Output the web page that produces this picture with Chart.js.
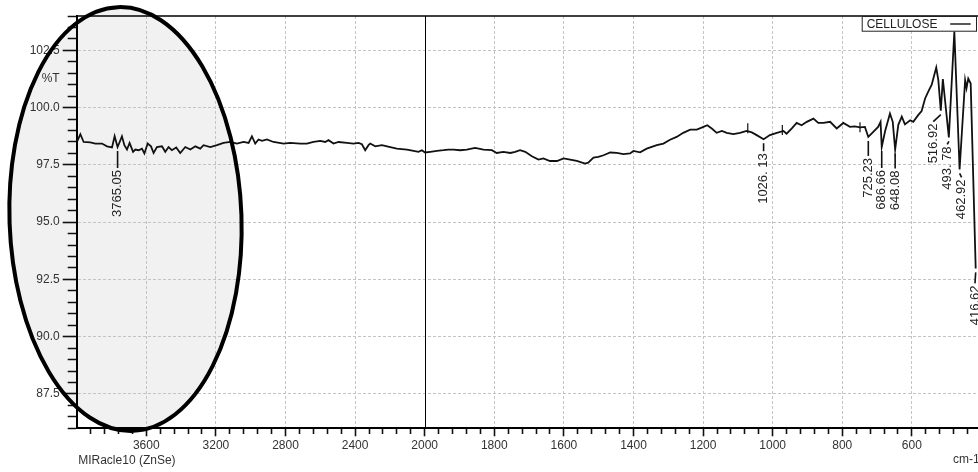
<!DOCTYPE html>
<html>
<head>
<meta charset="utf-8">
<title>CELLULOSE - FTIR</title>
<script src="https://cdn.jsdelivr.net/npm/chart.js@4.4.0/dist/chart.umd.min.js"></script>
<style>
  html, body { margin: 0; padding: 0; background: #fff; }
  canvas { display: block; }
</style>
</head>
<body>
<canvas id="ftir" width="978" height="472"></canvas>
<script>
/* ---------- data ---------- */
const seriesName = 'CELLULOSE';

const wavenumbers = [
  3996, 3979, 3960, 3922, 3893, 3855, 3826, 3797, 3782, 3765.05,
  3753, 3740, 3726, 3711, 3696, 3676, 3663, 3644, 3625, 3611,
  3592, 3573, 3558, 3539, 3510, 3491, 3472, 3453, 3428, 3405,
  3376, 3347, 3318, 3290, 3271, 3232, 3194, 3156, 3117, 3079,
  3041, 3012, 2993, 2974, 2955, 2935, 2907, 2869, 2811, 2773,
  2715, 2677, 2639, 2600, 2572, 2553, 2524, 2495, 2447, 2409,
  2380, 2361, 2342, 2323, 2313, 2284, 2246, 2198, 2160, 2102,
  2064, 2036, 2016, 1999, 1984, 1965, 1946, 1932, 1917, 1898,
  1879, 1855, 1831, 1807, 1793, 1774, 1754, 1740, 1726, 1711,
  1692, 1673, 1659, 1640, 1620, 1601, 1582, 1563, 1539, 1530,
  1515, 1501, 1486, 1467, 1448, 1429, 1410, 1400, 1381, 1362,
  1333, 1314, 1295, 1276, 1257, 1237, 1218, 1199, 1188, 1175,
  1161, 1146, 1132, 1113, 1094, 1075, 1060, 1046, 1026.13, 1008,
  988, 969, 960, 945, 931, 917, 902, 883, 869, 854,
  835, 816, 797, 778, 764, 749, 735, 725.23, 711, 697,
  690, 686.66, 677, 663, 655, 648.08, 639, 629, 620, 605,
  596, 582, 572, 562, 553, 543, 537, 530, 524, 516.92,
  511, 493.78, 478, 462.92, 447, 443, 438, 431, 416.62
];

const transmittance = [
  98.55, 98.84, 98.50, 98.48, 98.43, 98.43, 98.31, 98.26, 98.75, 98.28,
  98.50, 98.75, 98.36, 98.17, 98.46, 98.07, 98.17, 98.14, 98.21, 98.00,
  98.43, 98.31, 98.02, 98.28, 98.31, 98.07, 98.28, 98.14, 98.26, 98.02,
  98.28, 98.17, 98.31, 98.21, 98.36, 98.28, 98.36, 98.46, 98.50, 98.43,
  98.50, 98.46, 98.75, 98.43, 98.61, 98.55, 98.61, 98.50, 98.43, 98.46,
  98.43, 98.43, 98.50, 98.55, 98.50, 98.58, 98.43, 98.50, 98.46, 98.43,
  98.46, 98.40, 98.14, 98.36, 98.43, 98.31, 98.36, 98.28, 98.21, 98.17,
  98.11, 98.07, 98.14, 98.04, 98.07, 98.11, 98.14, 98.17, 98.17, 98.14,
  98.17, 98.24, 98.17, 98.14, 98.02, 98.07, 98.02, 98.07, 98.14, 98.07,
  97.88, 97.73, 97.78, 97.67, 97.67, 97.78, 97.73, 97.67, 97.56, 97.60,
  97.82, 97.85, 97.92, 98.04, 98.02, 97.97, 98.00, 98.11, 98.05, 98.21,
  98.36, 98.43, 98.60, 98.72, 98.90, 99.04, 99.04, 99.16, 99.23, 99.09,
  98.90, 98.98, 98.90, 98.84, 98.90, 98.98, 98.92, 98.80, 98.62, 98.80,
  98.90, 98.98, 98.86, 99.09, 99.33, 99.23, 99.38, 99.52, 99.33, 99.33,
  99.38, 99.09, 99.33, 99.16, 99.18, 99.14, 99.16, 98.72, 98.94, 99.16,
  99.38, 98.28, 98.97, 99.74, 99.38, 98.17, 99.25, 99.61, 99.27, 99.45,
  99.38, 99.67, 99.85, 100.40, 100.70, 101.00, 101.35, 101.75, 101.20, 99.87,
  101.25, 98.70, 103.32, 97.30, 101.20, 100.85, 101.27, 101.05, 92.98
];

// labelled peaks (text as printed on the spectrum)
const peakWavenumbers = [3765.05, 1026.13, 725.23, 686.66, 648.08, 516.92, 493.78, 462.92, 416.62];
const peakLabels = ['3765.05', '1026. 13', '725.23', '686.66', '648.08', '516.92', '493. 78', '462.92', '416.62'];

// small unlabelled peak marks crossing the trace
const markWavenumbers = [1071.6, 972.3, 749.1];
const markTransmittance = [99.10, 99.02, 99.14];

const xTickLabels = [3600, 3200, 2800, 2400, 2000, 1800, 1600, 1400, 1200, 1000, 800, 600];
const yTickLabels = [87.5, 90.0, 92.5, 95.0, 97.5, 100.0, 102.5];

/* ---------- label layout (pixel nudges, not data) ---------- */
const peakTextDrop = [23, 14, 21, 23, 21, 13, 9, 10, 17];
const peakTextShift = [0, 0, 0, 0, 0, -7.5, -1.6, 2, -0.7];

/* ---------- tick lists ---------- */
const BREAK = 2000;
const xMajorSet = new Set(xTickLabels);
const yMajorSet = new Set(yTickLabels);

const xTickValues = [];
for (let w = 3920; w > BREAK; w -= 80) xTickValues.push(w);
for (let w = BREAK; w >= 440; w -= 40) xTickValues.push(w);
xTickLabels.forEach(v => { if (!xTickValues.includes(v)) xTickValues.push(v); });
xTickValues.sort((a, b) => b - a);

const yTickValues = [];
for (let k = 172; k <= 208; k++) yTickValues.push(k / 2);

/* ---------- x scale: 400 cm-1 per division above 2000, 200 below ---------- */
function axisUnit(w) {
  return w >= BREAK ? (w - BREAK) / 400 : (w - BREAK) / 200;
}
function fromAxisUnit(u) {
  return u >= 0 ? BREAK + u * 400 : BREAK + u * 200;
}

class SplitLinearScale extends Chart.LinearScale {
  getPixelForValue(value) {
    if (value === null || value === undefined || isNaN(value)) return NaN;
    const u0 = axisUnit(this.min), u1 = axisUnit(this.max);
    return this.getPixelForDecimal((axisUnit(value) - u0) / (u1 - u0));
  }
  getValueForPixel(pixel) {
    const u0 = axisUnit(this.min), u1 = axisUnit(this.max);
    return fromAxisUnit(u0 + this.getDecimalForPixel(pixel) * (u1 - u0));
  }
}
SplitLinearScale.id = 'splitLinear';
SplitLinearScale.defaults = {};
Chart.register(SplitLinearScale);

/* ---------- decorations ---------- */
const FONT = "'Liberation Sans', Arial, Helvetica, sans-serif";

const spectrumDecor = {
  id: 'spectrumDecor',
  beforeDraw(chart) {
    const ctx = chart.ctx;
    ctx.save();
    ctx.fillStyle = '#fff';
    ctx.fillRect(0, 0, chart.width, chart.height);
    ctx.beginPath();
    ctx.ellipse(125.5, 219, 116, 212, -0.035, 0, Math.PI * 2);
    ctx.fillStyle = '#f1f1f1';
    ctx.fill();
    ctx.restore();
  },
  beforeDatasetsDraw(chart) {
    const { ctx, chartArea: area, scales: { x } } = chart;
    const bx = Math.round(x.getPixelForValue(BREAK)) + 0.5;
    ctx.save();
    ctx.strokeStyle = '#000';
    ctx.lineWidth = 1;
    ctx.beginPath();
    ctx.moveTo(bx, area.top);
    ctx.lineTo(bx, area.bottom);
    ctx.stroke();
    ctx.restore();
  },
  afterDatasetsDraw(chart) {
    const { ctx, chartArea: area, scales: { x, y } } = chart;
    ctx.save();

    // top frame line
    ctx.strokeStyle = '#000';
    ctx.lineWidth = 1.5;
    ctx.beginPath();
    ctx.moveTo(area.left, area.top);
    ctx.lineTo(area.right, area.top);
    ctx.stroke();

    // peak labels
    ctx.font = '13px ' + FONT;
    ctx.fillStyle = '#222';
    ctx.strokeStyle = '#111';
    ctx.lineWidth = 1.6;
    peakWavenumbers.forEach((w, k) => {
      const i = wavenumbers.indexOf(w);
      const px = x.getPixelForValue(w);
      const py = y.getPixelForValue(transmittance[i]);
      const tx = px + peakTextShift[k];
      const top = py + peakTextDrop[k];
      ctx.beginPath();
      ctx.moveTo(px, py + 4);
      ctx.lineTo(tx, top - 2);
      ctx.stroke();
      ctx.save();
      ctx.translate(tx, top);
      ctx.rotate(-Math.PI / 2);
      ctx.textAlign = 'right';
      ctx.textBaseline = 'middle';
      ctx.fillText(peakLabels[k], 0, 0);
      ctx.restore();
    });

    // legend box
    const lx = area.right - 116.3, ly = area.top + 0.5;
    ctx.fillStyle = '#fff';
    ctx.fillRect(lx, ly, 114.3, 14.7);
    ctx.strokeStyle = '#222';
    ctx.lineWidth = 1;
    ctx.strokeRect(lx + 0.5, ly, 114.3, 14.7);
    ctx.font = '12px ' + FONT;
    ctx.fillStyle = '#222';
    ctx.textAlign = 'left';
    ctx.textBaseline = 'middle';
    ctx.fillText(chart.data.datasets[0].label, lx + 5, ly + 8);
    ctx.lineWidth = 1.5;
    ctx.beginPath();
    ctx.moveTo(lx + 88.5, ly + 7.5);
    ctx.lineTo(lx + 109, ly + 7.5);
    ctx.stroke();

    // axis captions
    ctx.fillStyle = '#333';
    ctx.textAlign = 'right';
    ctx.fillText('%T', area.left - 17, y.getPixelForValue(101.25));
    ctx.textAlign = 'left';
    ctx.fillText('MIRacle10 (ZnSe)', area.left + 1.5, 461);
    ctx.fillText('cm-1', area.right - 25, 460);

    ctx.restore();
  },
  afterDraw(chart) {
    const ctx = chart.ctx;
    ctx.save();
    ctx.beginPath();
    ctx.ellipse(125.5, 219, 116, 212, -0.035, 0, Math.PI * 2);
    ctx.strokeStyle = '#000';
    ctx.lineWidth = 4;
    ctx.stroke();
    ctx.restore();
  }
};

/* ---------- chart ---------- */
Chart.defaults.font.family = FONT;
Chart.defaults.font.size = 12;
Chart.defaults.color = '#333';

new Chart(document.getElementById('ftir'), {
  type: 'line',
  data: {
    datasets: [
      {
        label: seriesName,
        data: wavenumbers.map((w, i) => ({ x: w, y: transmittance[i] })),
        borderColor: '#111',
        borderWidth: 1.8,
        pointRadius: 0,
        tension: 0,
        fill: false
      },
      {
        label: 'marks',
        data: markWavenumbers.map((w, i) => ({ x: w, y: markTransmittance[i] })),
        showLine: false,
        pointStyle: 'line',
        pointRotation: 90,
        pointRadius: 5,
        pointBorderColor: '#111',
        pointBorderWidth: 1.2
      }
    ]
  },
  options: {
    responsive: false,
    animation: false,
    layout: { autoPadding: false, padding: { top: 16, right: 0, bottom: 0, left: 0 } },
    plugins: {
      legend: { display: false },
      tooltip: { enabled: false }
    },
    scales: {
      x: {
        type: 'splitLinear',
        position: 'bottom',
        reverse: true,
        min: 410,
        max: 4000,
        bounds: 'data',
        afterBuildTicks: scale => { scale.ticks = xTickValues.map(v => ({ value: v })); },
        afterFit: scale => {
          scale.height = 43.7;
          scale.paddingLeft = 0;
          scale.paddingRight = 0;
        },
        ticks: {
          autoSkip: false,
          maxRotation: 0,
          minRotation: 0,
          padding: 2,
          color: '#333',
          callback: v => (xMajorSet.has(v) ? String(v) : '')
        },
        grid: {
          color: ctx => (ctx.tick && xMajorSet.has(ctx.tick.value) && ctx.tick.value !== BREAK)
            ? '#c4c4c4' : 'rgba(0,0,0,0)',
          lineWidth: 1,
          tickLength: 8,
          tickColor: '#111',
          tickWidth: 1.6,
          tickBorderDash: ctx => (ctx.tick && xMajorSet.has(ctx.tick.value)) ? [] : [5, 100]
        },
        border: { display: true, color: '#000', width: 2, dash: [3, 2] }
      },
      y: {
        type: 'linear',
        position: 'left',
        min: 86,
        max: 104,
        bounds: 'data',
        afterBuildTicks: scale => { scale.ticks = yTickValues.map(v => ({ value: v })); },
        afterFit: scale => {
          scale.width = 76.7;
          scale.paddingTop = 0;
          scale.paddingBottom = 0;
        },
        ticks: {
          autoSkip: false,
          padding: 3,
          color: '#333',
          callback: v => (yMajorSet.has(v) ? v.toFixed(1) : '')
        },
        grid: {
          color: ctx => (ctx.tick && yMajorSet.has(ctx.tick.value)) ? '#c4c4c4' : 'rgba(0,0,0,0)',
          lineWidth: 1,
          tickLength: 14,
          tickColor: '#111',
          tickWidth: 1.6,
          tickBorderDash: ctx => (ctx.tick && yMajorSet.has(ctx.tick.value)) ? [] : [0, 5, 9, 100]
        },
        border: { display: true, color: '#000', width: 2, dash: [3, 2] }
      }
    }
  },
  plugins: [spectrumDecor]
});
</script>
</body>
</html>
